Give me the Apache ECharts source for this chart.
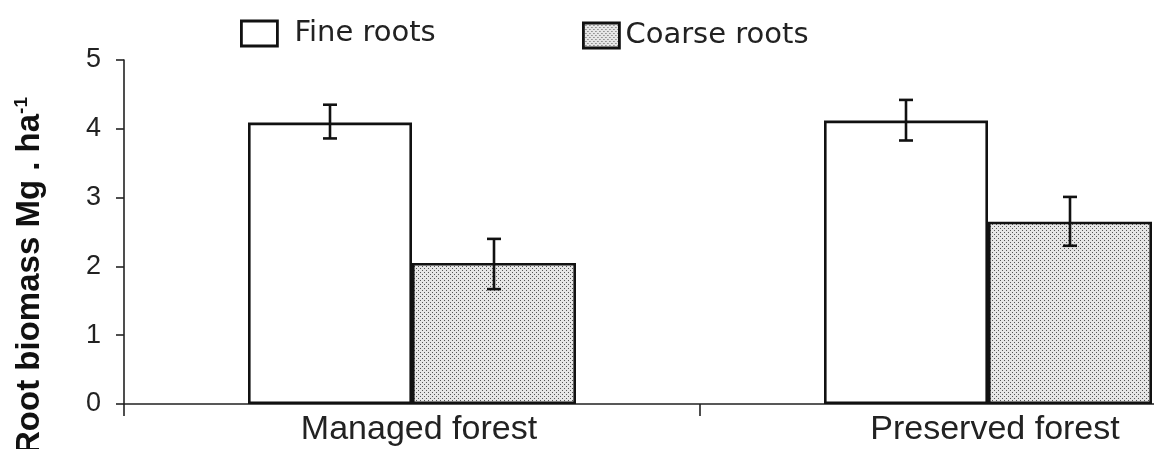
<!DOCTYPE html>
<html>
<head>
<meta charset="utf-8">
<script src="https://cdn.jsdelivr.net/npm/echarts@6/dist/echarts.min.js"></script>
<style>
  html, body { margin: 0; padding: 0; background: #fff; }
  #chart { width: 1154px; height: 449px; }
</style>
</head>
<body>
<div id="chart"></div>
<script>
// data
const categories = ['Managed forest', 'Preserved forest'];
const fineRoots = [4.09, 4.12];
const coarseRoots = [2.05, 2.65];
// error bar ends [low, high]
const fineErr = [[3.86, 4.35], [3.83, 4.42]];
const coarseErr = [[1.67, 2.40], [2.30, 3.01]];
const yTicks = [0, 1, 2, 3, 4, 5];

// dotted fill for coarse roots
function dotPattern() {
  const c = document.createElement('canvas');
  c.width = 4; c.height = 4;
  const ctx = c.getContext('2d');
  ctx.fillStyle = '#e6e6e6';
  ctx.fillRect(0, 0, 4, 4);
  ctx.fillStyle = '#555';
  ctx.fillRect(0, 0, 1, 1);
  ctx.fillRect(2, 2, 1, 1);
  return c;
}

const BAR_W = 164;

function errorSeries(name, err, offset) {
  return {
    type: 'custom',
    name: name + ' err',
    z: 10,
    silent: true,
    data: err.map((e, i) => [i, e[0], e[1]]),
    renderItem: function (params, api) {
      const lo = api.coord([api.value(0), api.value(1)]);
      const hi = api.coord([api.value(0), api.value(2)]);
      const x = lo[0] + offset;
      const cap = 7;
      const style = { stroke: '#111', lineWidth: 2.6 };
      return {
        type: 'group',
        children: [
          { type: 'line', shape: { x1: x, y1: lo[1], x2: x, y2: hi[1] }, style: style },
          { type: 'line', shape: { x1: x - cap, y1: lo[1], x2: x + cap, y2: lo[1] }, style: style },
          { type: 'line', shape: { x1: x - cap, y1: hi[1], x2: x + cap, y2: hi[1] }, style: style }
        ]
      };
    }
  };
}

const chart = echarts.init(document.getElementById('chart'));
const pattern = { image: dotPattern(), repeat: 'repeat' };

const legendText = { fontFamily: 'DejaVu Sans', fontSize: 29, color: '#222' };

chart.setOption({
  backgroundColor: '#fff',
  animation: false,
  legend: [
    {
      data: [{ name: 'Fine roots', icon: 'rect', textStyle: Object.assign({ padding: [0, 0, 0, 12] }, legendText) }],
      left: 235, top: 14,
      itemWidth: 36, itemHeight: 25,
      itemStyle: { borderColor: '#111', borderWidth: 2.8 },
      textStyle: legendText
    },
    {
      data: [{ name: 'Coarse roots', icon: 'rect', textStyle: Object.assign({ padding: [0, 0, 0, 1] }, legendText) }],
      left: 577, top: 16,
      itemWidth: 36, itemHeight: 25,
      itemStyle: { borderColor: '#111', borderWidth: 2.8 },
      textStyle: legendText
    }
  ],
  // plot area runs past the right edge of the picture, as in the source figure
  grid: { left: 124, top: 60, width: 1152, height: 344, containLabel: false, outerBoundsMode: 'none' },
  xAxis: {
    type: 'category',
    data: categories,
    boundaryGap: true,
    axisLine: { lineStyle: { color: '#222', width: 1.6 } },
    axisTick: { show: true, length: 12, lineStyle: { color: '#222', width: 1.6 } },
    axisLabel: {
      fontFamily: 'Liberation Sans, Arial, sans-serif',
      fontSize: 34, color: '#222', margin: 9,
      padding: [0, 0, 0, 14]
    }
  },
  yAxis: {
    type: 'value',
    min: yTicks[0], max: yTicks[yTicks.length - 1], interval: 1,
    axisLine: { show: true, lineStyle: { color: '#222', width: 1.6 } },
    axisTick: { show: true, length: 8, lineStyle: { color: '#222', width: 1.6 } },
    splitLine: { show: false },
    axisLabel: {
      fontFamily: 'Liberation Sans, Arial, sans-serif',
      fontSize: 27, color: '#222', margin: 23
    }
  },
  graphic: [
    {
      type: 'text',
      x: 30, y: 276,
      rotation: Math.PI / 2,
      style: {
        text: '{a|Root biomass Mg . ha}{b|-1}',
        align: 'center',
        verticalAlign: 'middle',
        fill: '#111',
        rich: {
          a: { fontFamily: 'Liberation Sans, Arial, sans-serif', fontWeight: 'bold', fontSize: 33, lineHeight: 36, fill: '#111' },
          b: { fontFamily: 'Liberation Sans, Arial, sans-serif', fontWeight: 'bold', fontSize: 19, lineHeight: 36, verticalAlign: 'top', fill: '#111' }
        }
      }
    }
  ],
  series: [
    {
      name: 'Fine roots',
      type: 'bar',
      data: fineRoots,
      barWidth: BAR_W,
      barGap: '0%',
      itemStyle: { color: '#fff', borderColor: '#111', borderWidth: 2.6 }
    },
    {
      name: 'Coarse roots',
      type: 'bar',
      data: coarseRoots,
      barWidth: BAR_W,
      barGap: '0%',
      itemStyle: { color: pattern, borderColor: '#111', borderWidth: 2.6 }
    },
    errorSeries('Fine roots', fineErr, -BAR_W / 2),
    errorSeries('Coarse roots', coarseErr, BAR_W / 2)
  ]
});

window.addEventListener('resize', function () { chart.resize(); });
</script>
</body>
</html>
